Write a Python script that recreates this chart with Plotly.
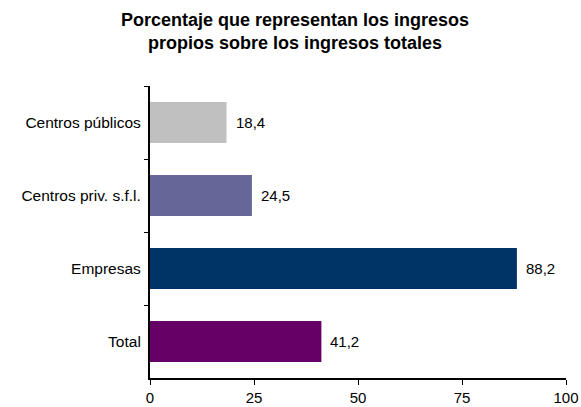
import plotly.graph_objects as go

categories = ["Centros públicos", "Centros priv. s.f.l.", "Empresas", "Total"]
values = [18.4, 24.5, 88.2, 41.2]
colors = ["#C0C0C0", "#666699", "#003366", "#660066"]
x_ticks = [0, 25, 50, 75, 100]

FONT = "Liberation Sans, Arial, sans-serif"

fig = go.Figure(
    go.Bar(
        x=values,
        y=categories,
        orientation="h",
        marker=dict(color=colors, line=dict(width=0)),
        hoverinfo="skip",
    )
)

# value labels to the right of each bar
for cat, v in zip(categories, values):
    fig.add_annotation(
        x=v, y=cat, text=f"{v:.1f}".replace(".", ","),
        showarrow=False, xanchor="left", xshift=7,
        font=dict(family=FONT, size=15, color="#000000"),
    )

# two-line bold heading
fig.add_annotation(
    text="<b>Porcentaje que representan los ingresos<br>propios sobre los ingresos totales</b>",
    xref="paper", yref="paper", x=(295 - 150) / 416, y=1 + (86 - 8) / 292,
    xanchor="center", yanchor="top", showarrow=False, align="center",
    font=dict(family=FONT, size=18, color="#000000"),
)

fig.update_layout(
    width=581,
    height=407,
    margin=dict(l=150, r=15, t=86, b=29),
    paper_bgcolor="white",
    plot_bgcolor="white",
    bargap=0.44,
    showlegend=False,
    font=dict(family=FONT, size=15, color="#000000"),
    xaxis=dict(
        range=[0, 100],
        tickvals=x_ticks,
        ticks="outside", ticklen=5, tickwidth=1, tickcolor="#000000",
        showline=True, linecolor="#000000", linewidth=1.5,
        showgrid=False, zeroline=False, automargin=False,
        tickfont=dict(size=15),
    ),
    yaxis=dict(
        autorange="reversed",
        ticks="outside", ticklen=4, tickwidth=1, tickcolor="#000000",
        tickson="boundaries",
        showline=True, linecolor="#000000", linewidth=1.5,
        showgrid=False, zeroline=False, automargin=False,
        ticksuffix=" ",
        tickfont=dict(size=15.5),
    ),
)

fig.write_html("out.html")
